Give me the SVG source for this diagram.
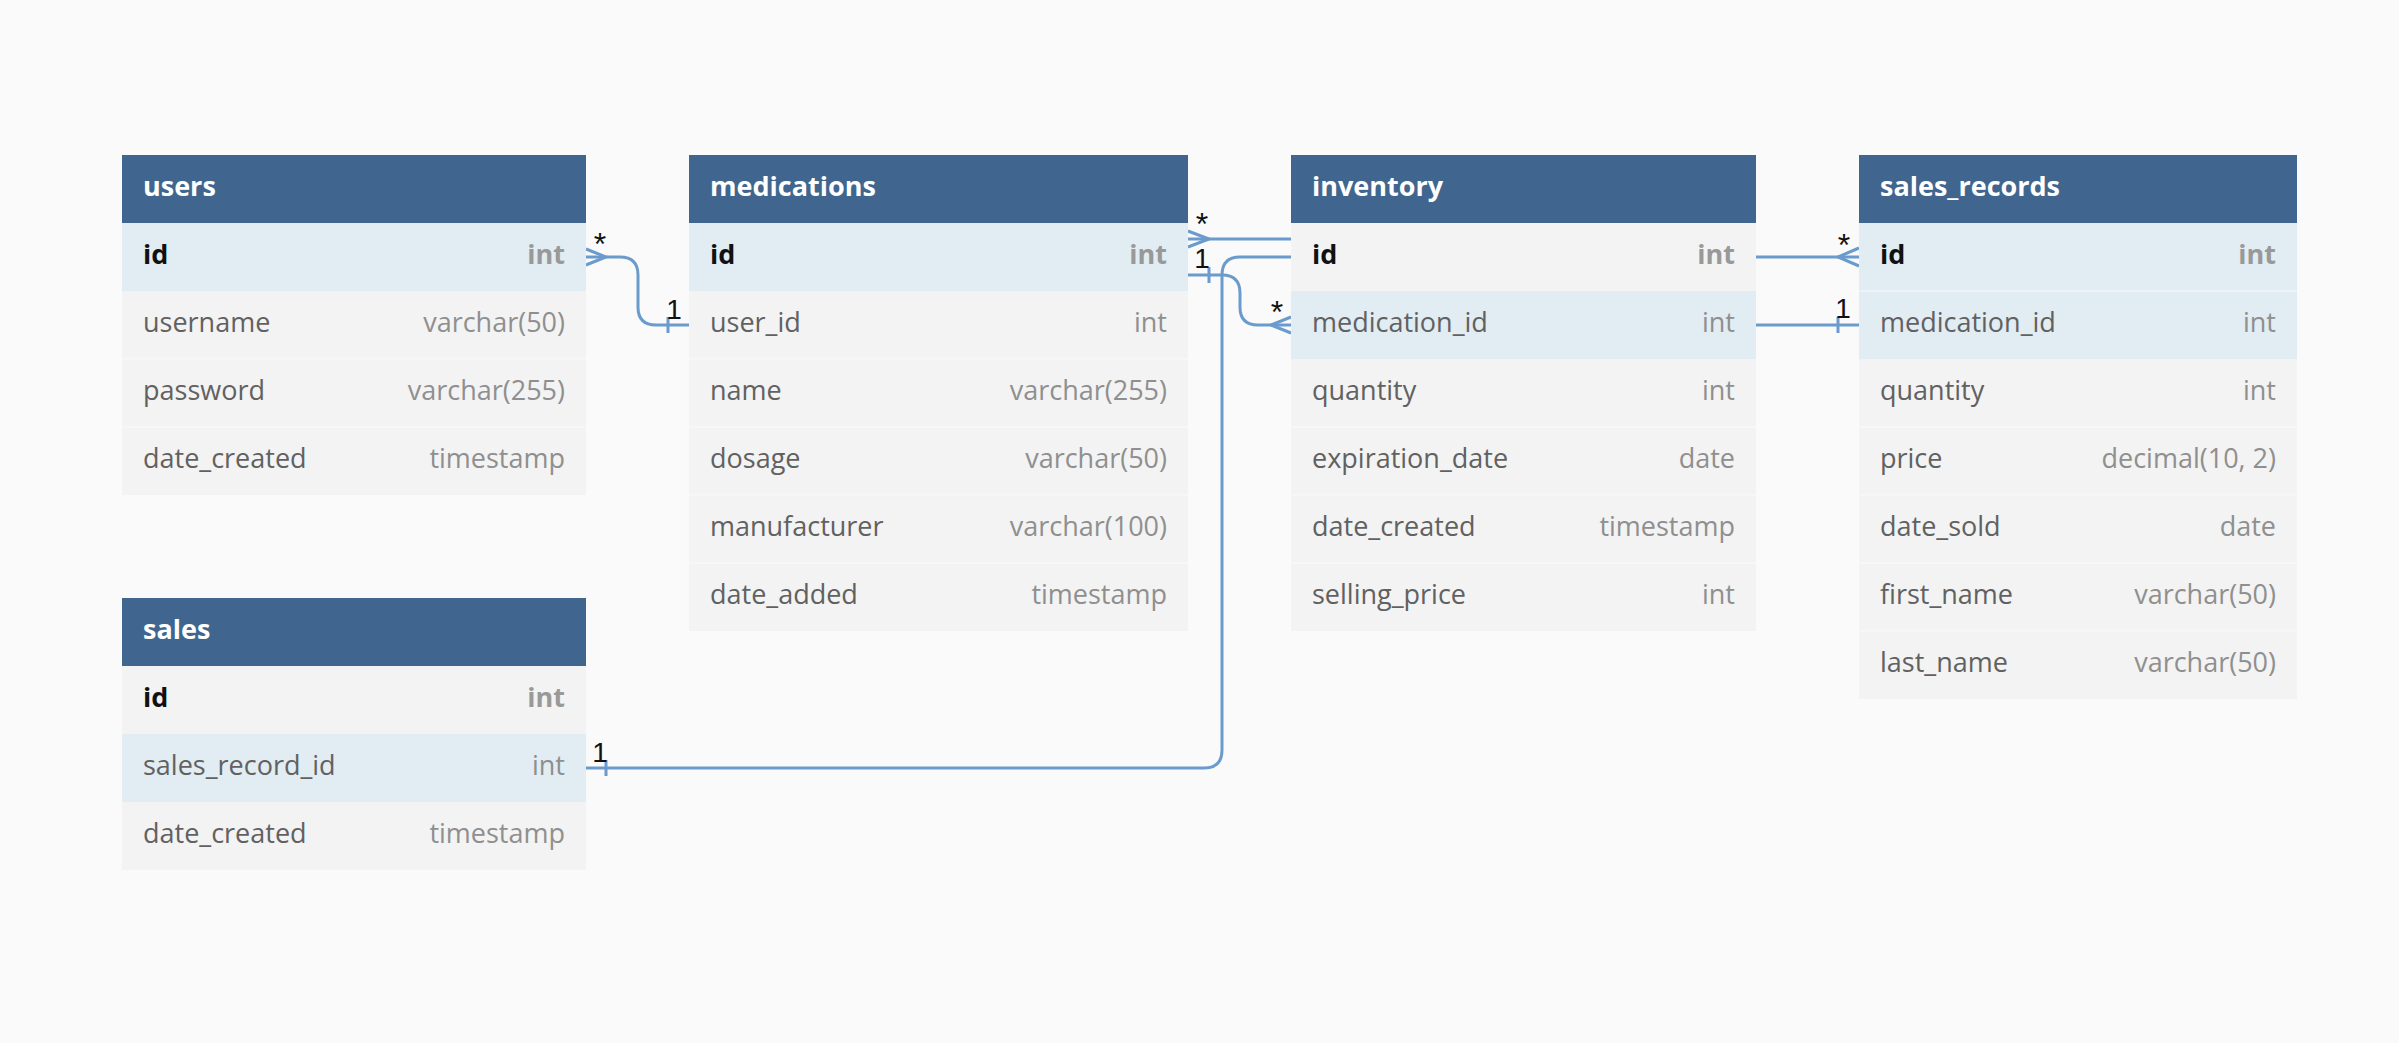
<svg xmlns="http://www.w3.org/2000/svg" width="2399" height="1043" viewBox="0 0 2399 1043">
<style>
.bg{fill:#fafafa}
.hd{fill:#40668f}
.row{fill:#f3f3f3}
.hl{fill:#e1ecf3}
.sep{stroke:#fafafa;stroke-width:1}
.title{font-family:"Open Sans","Noto Sans",sans-serif;font-size:27px;font-weight:700;fill:#ffffff}
.fn{font-family:"Open Sans","Noto Sans",sans-serif;font-size:27px;fill:#616161}
.ft{font-family:"Open Sans","Noto Sans",sans-serif;font-size:27px;fill:#8f8f8f;text-anchor:end}
.pk{font-weight:700;fill:#111111}
.pkt{font-weight:700;fill:#999999}
.ln{fill:none;stroke:#6b9bcd;stroke-width:3}
.lb{font-family:"Liberation Sans",Arial,sans-serif;font-size:28px;fill:#111111;text-anchor:middle}
.st{font-size:32px}
</style>
<rect class="bg" x="0" y="0" width="2399" height="1043"/>

<g id="connectors">
  <!-- users.id * -> medications.user_id 1 -->
  <path class="ln" d="M586,257 H620 Q638,257 638,275 V307 Q638,325 656,325 H689"/>
  <path class="ln" d="M586,249 L606,257 L586,265"/>
  <path class="ln" d="M668,317 V333"/>
  <text class="lb st" x="600" y="255">*</text>
  <text class="lb" x="674" y="319">1</text>

  <!-- medications.id * -> inventory.id -->
  <path class="ln" d="M1188,239 H1291"/>
  <path class="ln" d="M1188,231 L1209,239 L1188,247"/>
  <text class="lb st" x="1202" y="235">*</text>

  <!-- inventory.id -> sales.sales_record_id 1 -->
  <path class="ln" d="M1291,257 H1240 Q1222,257 1222,275 V750 Q1222,768 1204,768 H586"/>
  <path class="ln" d="M606,760 V776"/>
  <text class="lb" x="600" y="762">1</text>

  <!-- medications.id 1 -> inventory.medication_id * -->
  <path class="ln" d="M1188,275 H1222 Q1240,275 1240,293 V307 Q1240,325 1258,325 H1291"/>
  <path class="ln" d="M1209,267 V283"/>
  <path class="ln" d="M1291,317 L1271,325 L1291,333"/>
  <text class="lb" x="1202" y="268">1</text>
  <text class="lb st" x="1277" y="323">*</text>

  <!-- inventory.id -> sales_records.id * -->
  <path class="ln" d="M1756,257 H1859"/>
  <path class="ln" d="M1859,248 L1838,257 L1859,266"/>
  <text class="lb st" x="1844" y="256">*</text>

  <!-- inventory.medication_id -> sales_records.medication_id 1 -->
  <path class="ln" d="M1756,325 H1859"/>
  <path class="ln" d="M1838,317 V333"/>
  <text class="lb" x="1843" y="318">1</text>
</g>

<g id="users">
  <rect class="hd" x="122" y="155" width="464" height="68"/>
  <text class="title" x="143" y="196">users</text>
  <rect class="hl" x="122" y="223" width="464" height="68"/>
  <rect class="row" x="122" y="291" width="464" height="204"/>
  <line class="sep" x1="122" y1="359" x2="586" y2="359"/>
  <line class="sep" x1="122" y1="427" x2="586" y2="427"/>
  <text class="fn pk" x="143" y="264">id</text><text class="ft pkt" x="565" y="264">int</text>
  <text class="fn" x="143" y="332">username</text><text class="ft" x="565" y="332">varchar(50)</text>
  <text class="fn" x="143" y="400">password</text><text class="ft" x="565" y="400">varchar(255)</text>
  <text class="fn" x="143" y="468">date_created</text><text class="ft" x="565" y="468">timestamp</text>
</g>

<g id="medications">
  <rect class="hd" x="689" y="155" width="499" height="68"/>
  <text class="title" x="710" y="196">medications</text>
  <rect class="hl" x="689" y="223" width="499" height="68"/>
  <rect class="row" x="689" y="291" width="499" height="340"/>
  <line class="sep" x1="689" y1="359" x2="1188" y2="359"/>
  <line class="sep" x1="689" y1="427" x2="1188" y2="427"/>
  <line class="sep" x1="689" y1="495" x2="1188" y2="495"/>
  <line class="sep" x1="689" y1="563" x2="1188" y2="563"/>
  <text class="fn pk" x="710" y="264">id</text><text class="ft pkt" x="1167" y="264">int</text>
  <text class="fn" x="710" y="332">user_id</text><text class="ft" x="1167" y="332">int</text>
  <text class="fn" x="710" y="400">name</text><text class="ft" x="1167" y="400">varchar(255)</text>
  <text class="fn" x="710" y="468">dosage</text><text class="ft" x="1167" y="468">varchar(50)</text>
  <text class="fn" x="710" y="536">manufacturer</text><text class="ft" x="1167" y="536">varchar(100)</text>
  <text class="fn" x="710" y="604">date_added</text><text class="ft" x="1167" y="604">timestamp</text>
</g>

<g id="inventory">
  <rect class="hd" x="1291" y="155" width="465" height="68"/>
  <text class="title" x="1312" y="196">inventory</text>
  <rect class="row" x="1291" y="223" width="465" height="68"/>
  <rect class="hl" x="1291" y="291" width="465" height="68"/>
  <rect class="row" x="1291" y="359" width="465" height="272"/>
  <line class="sep" x1="1291" y1="427" x2="1756" y2="427"/>
  <line class="sep" x1="1291" y1="495" x2="1756" y2="495"/>
  <line class="sep" x1="1291" y1="563" x2="1756" y2="563"/>
  <text class="fn pk" x="1312" y="264">id</text><text class="ft pkt" x="1735" y="264">int</text>
  <text class="fn" x="1312" y="332">medication_id</text><text class="ft" x="1735" y="332">int</text>
  <text class="fn" x="1312" y="400">quantity</text><text class="ft" x="1735" y="400">int</text>
  <text class="fn" x="1312" y="468">expiration_date</text><text class="ft" x="1735" y="468">date</text>
  <text class="fn" x="1312" y="536">date_created</text><text class="ft" x="1735" y="536">timestamp</text>
  <text class="fn" x="1312" y="604">selling_price</text><text class="ft" x="1735" y="604">int</text>
</g>

<g id="sales_records">
  <rect class="hd" x="1859" y="155" width="438" height="68"/>
  <text class="title" x="1880" y="196">sales_records</text>
  <rect class="hl" x="1859" y="223" width="438" height="136"/>
  <line class="sep" x1="1859" y1="291" x2="2297" y2="291"/>
  <rect class="row" x="1859" y="359" width="438" height="340"/>
  <line class="sep" x1="1859" y1="427" x2="2297" y2="427"/>
  <line class="sep" x1="1859" y1="495" x2="2297" y2="495"/>
  <line class="sep" x1="1859" y1="563" x2="2297" y2="563"/>
  <line class="sep" x1="1859" y1="631" x2="2297" y2="631"/>
  <text class="fn pk" x="1880" y="264">id</text><text class="ft pkt" x="2276" y="264">int</text>
  <text class="fn" x="1880" y="332">medication_id</text><text class="ft" x="2276" y="332">int</text>
  <text class="fn" x="1880" y="400">quantity</text><text class="ft" x="2276" y="400">int</text>
  <text class="fn" x="1880" y="468">price</text><text class="ft" x="2276" y="468">decimal(10, 2)</text>
  <text class="fn" x="1880" y="536">date_sold</text><text class="ft" x="2276" y="536">date</text>
  <text class="fn" x="1880" y="604">first_name</text><text class="ft" x="2276" y="604">varchar(50)</text>
  <text class="fn" x="1880" y="672">last_name</text><text class="ft" x="2276" y="672">varchar(50)</text>
</g>

<g id="sales">
  <rect class="hd" x="122" y="598" width="464" height="68"/>
  <text class="title" x="143" y="639">sales</text>
  <rect class="row" x="122" y="666" width="464" height="68"/>
  <rect class="hl" x="122" y="734" width="464" height="68"/>
  <rect class="row" x="122" y="802" width="464" height="68"/>
  <text class="fn pk" x="143" y="707">id</text><text class="ft pkt" x="565" y="707">int</text>
  <text class="fn" x="143" y="775">sales_record_id</text><text class="ft" x="565" y="775">int</text>
  <text class="fn" x="143" y="843">date_created</text><text class="ft" x="565" y="843">timestamp</text>
</g>
</svg>
